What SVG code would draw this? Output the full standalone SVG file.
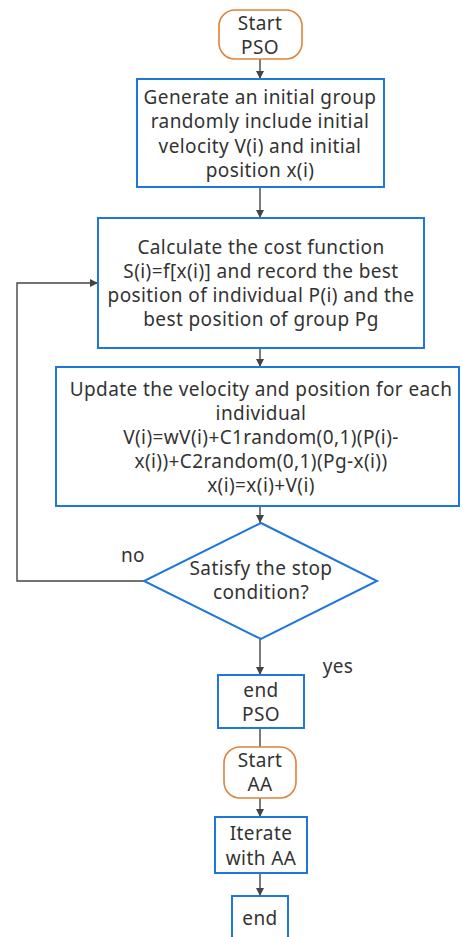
<svg xmlns="http://www.w3.org/2000/svg" width="463" height="937" viewBox="0 0 463 937">
  <style>
    .box { fill: #ffffff; stroke: #1f78d8; stroke-width: 2; }
    .term { fill: #ffffff; stroke: #e0823a; stroke-width: 1.6; }
    .lbl { font-family: "Noto Sans", "Open Sans", "DejaVu Sans", sans-serif; font-size: 19px; letter-spacing: 0.4px; fill: #333333; text-anchor: middle; }
    .edge { fill: none; stroke: #444444; stroke-width: 1.4; }
  </style>
  <defs>
    <marker id="arrow" viewBox="0 0 10 10" refX="10" refY="5" markerWidth="8" markerHeight="8" markerUnits="userSpaceOnUse" orient="auto">
      <path d="M0,0 L10,5 L0,10 z" fill="#444444"/>
    </marker>
  </defs>
  <rect width="463" height="937" fill="#ffffff"/>

  <g id="connectors">
    <line class="edge" x1="260" y1="59" x2="260" y2="79" marker-end="url(#arrow)"/>
    <line class="edge" x1="260" y1="187" x2="260" y2="218" marker-end="url(#arrow)"/>
    <line class="edge" x1="260" y1="348" x2="260" y2="367" marker-end="url(#arrow)"/>
    <line class="edge" x1="260" y1="506" x2="260" y2="523" marker-end="url(#arrow)"/>
    <polyline class="edge" points="144,581 17,581 17,283 98,283" marker-end="url(#arrow)"/>
    <line class="edge" x1="260" y1="639" x2="260" y2="675" marker-end="url(#arrow)"/>
    <line class="edge" x1="260" y1="728" x2="260" y2="747"/>
    <line class="edge" x1="260" y1="798" x2="260" y2="817" marker-end="url(#arrow)"/>
    <line class="edge" x1="260" y1="873" x2="260" y2="896" marker-end="url(#arrow)"/>
    <text class="lbl" x="133" y="562">no</text>
    <text class="lbl" x="338" y="673">yes</text>
  </g>

  <g id="start-pso">
    <rect class="term" x="219" y="10" width="83" height="49" rx="16"/>
    <text class="lbl" x="260" y="30">Start</text>
    <text class="lbl" x="260" y="54">PSO</text>
  </g>

  <g id="init-group">
    <rect class="box" x="137" y="79" width="247" height="108"/>
    <text class="lbl" x="260" y="104">Generate an initial group</text>
    <text class="lbl" x="260" y="128">randomly include initial</text>
    <text class="lbl" x="260" y="153">velocity V(i) and initial</text>
    <text class="lbl" x="260" y="177">position x(i)</text>
  </g>

  <g id="cost">
    <rect class="box" x="98" y="218" width="326" height="130"/>
    <text class="lbl" x="261" y="254">Calculate the cost function</text>
    <text class="lbl" x="261" y="278">S(i)=f[x(i)] and record the best</text>
    <text class="lbl" x="261" y="302">position of individual P(i) and the</text>
    <text class="lbl" x="261" y="326">best position of group Pg</text>
  </g>

  <g id="update">
    <rect class="box" x="56" y="367" width="403" height="139"/>
    <text class="lbl" x="261" y="396">Update the velocity and position for each</text>
    <text class="lbl" x="261" y="420">individual</text>
    <text class="lbl" x="261" y="444">V(i)=wV(i)+C1random(0,1)(P(i)-</text>
    <text class="lbl" x="261" y="468">x(i))+C2random(0,1)(Pg-x(i))</text>
    <text class="lbl" x="261" y="492">x(i)=x(i)+V(i)</text>
  </g>

  <g id="stop-check">
    <polygon class="box" points="261,523 377,581 261,639 144,581"/>
    <text class="lbl" x="261" y="575">Satisfy the stop</text>
    <text class="lbl" x="261" y="599">condition?</text>
  </g>

  <g id="end-pso">
    <rect class="box" x="218" y="675" width="86" height="53"/>
    <text class="lbl" x="261" y="697">end</text>
    <text class="lbl" x="261" y="721">PSO</text>
  </g>

  <g id="start-aa">
    <rect class="term" x="224" y="747" width="72" height="51" rx="16"/>
    <text class="lbl" x="260" y="767">Start</text>
    <text class="lbl" x="260" y="791">AA</text>
  </g>

  <g id="iterate-aa">
    <rect class="box" x="215" y="817" width="92" height="56"/>
    <text class="lbl" x="261" y="840">Iterate</text>
    <text class="lbl" x="261" y="865">with AA</text>
  </g>

  <g id="end">
    <rect class="box" x="232" y="896" width="56" height="50"/>
    <text class="lbl" x="260" y="925">end</text>
  </g>
</svg>
